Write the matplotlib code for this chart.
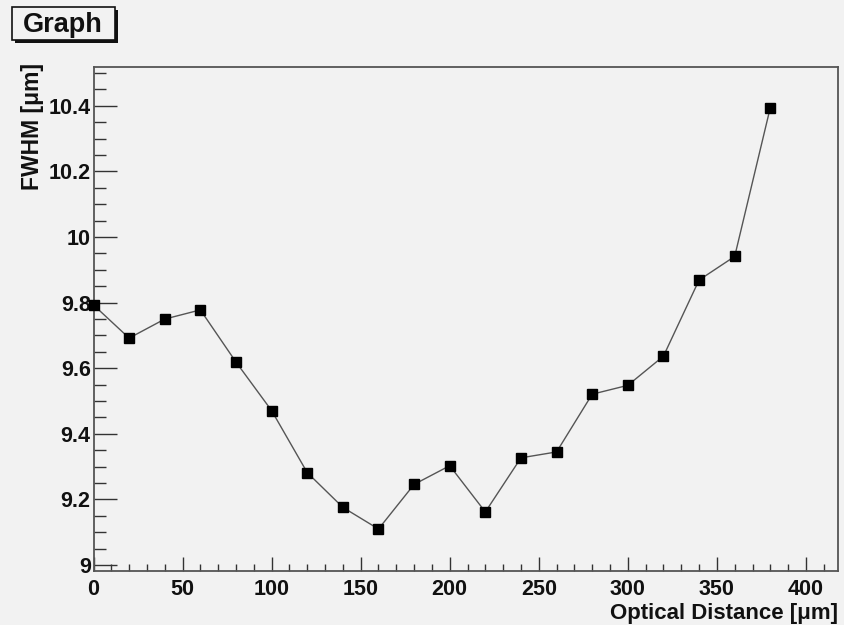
import matplotlib
matplotlib.use('Agg')
import matplotlib.pyplot as plt
from matplotlib.patches import Rectangle
from matplotlib.ticker import MultipleLocator, FuncFormatter

# ---- data ----
distance = [0, 20, 40, 60, 80, 100, 120, 140, 160, 180, 200,
            220, 240, 260, 280, 300, 320, 340, 360, 380]
fwhm = [9.793, 9.692, 9.750, 9.778, 9.619, 9.471, 9.282, 9.176, 9.110, 9.246,
        9.303, 9.162, 9.327, 9.345, 9.521, 9.548, 9.637, 9.869, 9.941, 10.395]
title = "Graph"
x_title = "Optical Distance [μm]"
y_title = "FWHM [μm]"

W, H = 844, 625
BG = '#f2f2f2'
FONT = 'Liberation Sans'

fig = plt.figure(figsize=(W / 100, H / 100), dpi=100, facecolor=BG)
L, R, T, B = 93.5, 838, 66.5, 571
ax = fig.add_axes([L / W, 1 - B / H, (R - L) / W, (B - T) / H])
ax.set_facecolor(BG)

ax.plot(distance, fwhm, color='#555555', lw=1.0, marker='s', ms=7.5,
        mfc='black', mec='black', clip_on=False, zorder=3)

ax.set_xlim(0, 418)
ax.set_ylim(8.982, 10.52)

ax.xaxis.set_major_locator(MultipleLocator(50))
ax.xaxis.set_minor_locator(MultipleLocator(10))
ax.yaxis.set_major_locator(MultipleLocator(0.2))
ax.yaxis.set_minor_locator(MultipleLocator(0.05))
ax.yaxis.set_major_formatter(FuncFormatter(lambda v, p: '%g' % round(v, 3)))
ax.xaxis.set_major_formatter(FuncFormatter(lambda v, p: '%g' % round(v, 3)))

ax.tick_params(axis='both', which='both', direction='in', top=False, right=False,
               color='#333333', width=1.0)
ax.tick_params(axis='x', which='major', length=10, pad=5.5)
ax.tick_params(axis='x', which='minor', length=5)
ax.tick_params(axis='y', which='major', length=16.5, pad=2)
ax.tick_params(axis='y', which='minor', length=8.5)
for lab in ax.get_xticklabels() + ax.get_yticklabels():
    lab.set_fontfamily(FONT)
    lab.set_fontweight('bold')
    lab.set_fontsize(15.5)
    lab.set_color('#111111')

for s in ['left', 'bottom', 'top', 'right']:
    ax.spines[s].set_color('#555555')
    ax.spines[s].set_linewidth(1.3)

# axis titles (ROOT style: aligned at axis end)
fig.text(R / W, 1 - 619 / H, x_title, ha='right', va='baseline',
         fontfamily=FONT, fontweight='bold', fontsize=16, color='#111111')
fig.text(33 / W, 1 - 63 / H, y_title, ha='center', va='top', rotation=90,
         fontfamily=FONT, fontweight='bold', fontsize=16.5, color='#111111')

# title box with shadow
bx0, bx1, by0, by1 = 11.5, 115, 6.5, 40
sh = 3
fig.add_artist(Rectangle(((bx0 + sh) / W, 1 - (by1 + sh) / H), (bx1 - bx0) / W,
                         (by1 - by0) / H, transform=fig.transFigure,
                         facecolor='#111111', edgecolor='none', zorder=5))
fig.add_artist(Rectangle((bx0 / W, 1 - by1 / H), (bx1 - bx0) / W,
                         (by1 - by0) / H, transform=fig.transFigure,
                         facecolor=BG, edgecolor='#111111', lw=1.2, zorder=6))
fig.text(((bx0 + bx1) / 2) / W, 1 - 31.5 / H, title, ha='center', va='baseline',
         fontfamily=FONT, fontweight='bold', fontsize=19.5, color='#111111', zorder=7)

fig.savefig('out.png', dpi=100, facecolor=BG)
